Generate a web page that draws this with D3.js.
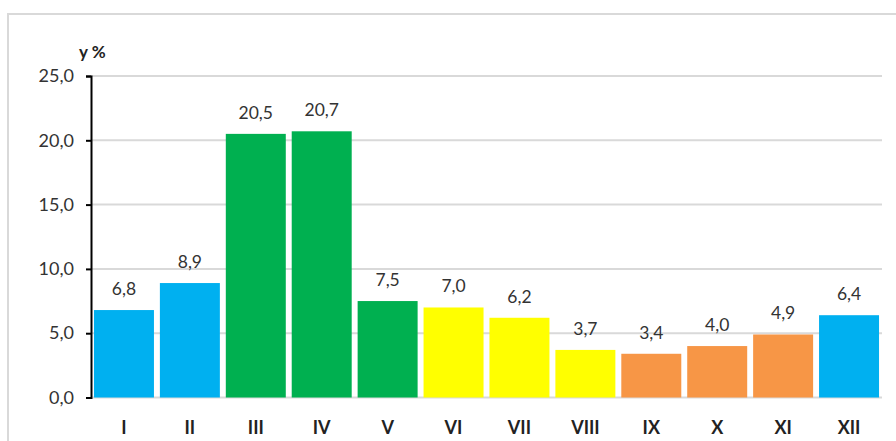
<!DOCTYPE html>
<html>
<head>
<meta charset="utf-8">
<script src="https://cdn.jsdelivr.net/npm/d3@7"></script>
<style>
  body { margin: 0; background: #fff; }
  svg { display: block; font-family: Lato, "Open Sans", sans-serif; }
</style>
</head>
<body>
<div id="chart"></div>
<script>
const months = ["I", "II", "III", "IV", "V", "VI", "VII", "VIII", "IX", "X", "XI", "XII"]
const values = [6.8, 8.9, 20.5, 20.7, 7.5, 7.0, 6.2, 3.7, 3.4, 4.0, 4.9, 6.4]
const seasons = ["winter", "winter", "spring", "spring", "spring", "summer", "summer", "summer", "autumn", "autumn", "autumn", "winter"]
const yTicks = [0, 5, 10, 15, 20, 25]

const seasonColor = {
  "winter": "#00b0f0",
  "spring": "#00b050",
  "summer": "#ffff00",
  "autumn": "#f79646"
}

const config = {
  "w": 896,
  "h": 441,
  "left": 91,
  "right": 882,
  "top": 76,
  "bottom": 397.5
}

const fmt = v => d3.format(".1f")(v).replace(".", ",")

const svg = d3.select("#chart")
              .append("svg")
              .attr("width", config.w)
              .attr("height", config.h)

// outer chart border (runs off the right and bottom edge)
svg.append("rect")
   .attr("x", 8)
   .attr("y", 14)
   .attr("width", 1000)
   .attr("height", 1000)
   .attr("fill", "none")
   .attr("stroke", "#d9d9d9")
   .attr("stroke-width", 2)

const x = d3.scaleBand()
            .domain(months)
            .range([config.left, config.right])
            .paddingInner(0.09)
            .paddingOuter(0.045)

const y = d3.scaleLinear()
            .domain([0, 25])
            .range([config.bottom, config.top])

// gridlines
svg.append("g")
   .selectAll("line")
   .data(yTicks)
   .enter()
   .append("line")
   .attr("x1", config.left)
   .attr("x2", config.right)
   .attr("y1", d => y(d))
   .attr("y2", d => y(d))
   .attr("stroke", "#d9d9d9")
   .attr("stroke-width", 2)

// bars
svg.append("g")
   .selectAll("rect")
   .data(values)
   .enter()
   .append("rect")
   .attr("x", (d, i) => x(months[i]))
   .attr("y", d => y(d))
   .attr("width", x.bandwidth())
   .attr("height", d => y(0) - y(d))
   .attr("fill", (d, i) => seasonColor[seasons[i]])

// value labels
svg.append("g")
   .selectAll("text")
   .data(values)
   .enter()
   .append("text")
   .attr("x", (d, i) => x(months[i]) + x.bandwidth() / 2)
   .attr("y", d => y(d) - 15)
   .attr("text-anchor", "middle")
   .attr("font-size", 17.5)
   .attr("fill", "#333")
   .text(d => fmt(d))

// y axis
const yAxis = d3.axisLeft(y)
                .tickValues(yTicks)
                .tickSize(5)
                .tickFormat(fmt)

const gy = svg.append("g")
   .attr("transform", "translate(" + config.left + ",0)")
   .call(yAxis)
gy.select(".domain").attr("stroke", "#000").attr("stroke-width", 2)
gy.selectAll(".tick line").attr("stroke", "#000").attr("stroke-width", 2)
gy.selectAll(".tick text")
  .attr("x", -17)
  .attr("font-size", 18)
  .attr("font-family", "Lato, sans-serif")
  .attr("fill", "#333")

// x axis labels
const xAxis = d3.axisBottom(x).tickSize(0).tickPadding(24)
const gx = svg.append("g")
   .attr("transform", "translate(0," + config.bottom + ")")
   .call(xAxis)
gx.select(".domain").remove()
gx.selectAll(".tick text")
  .attr("font-size", 18)
  .attr("font-weight", "bold")
  .attr("font-family", "Lato, sans-serif")
  .attr("fill", "#222")

// unit label
svg.append("text")
   .attr("x", 79)
   .attr("y", 58)
   .attr("font-size", 17)
   .attr("font-weight", "bold")
   .attr("fill", "#222")
   .text("y %")
</script>
</body>
</html>
